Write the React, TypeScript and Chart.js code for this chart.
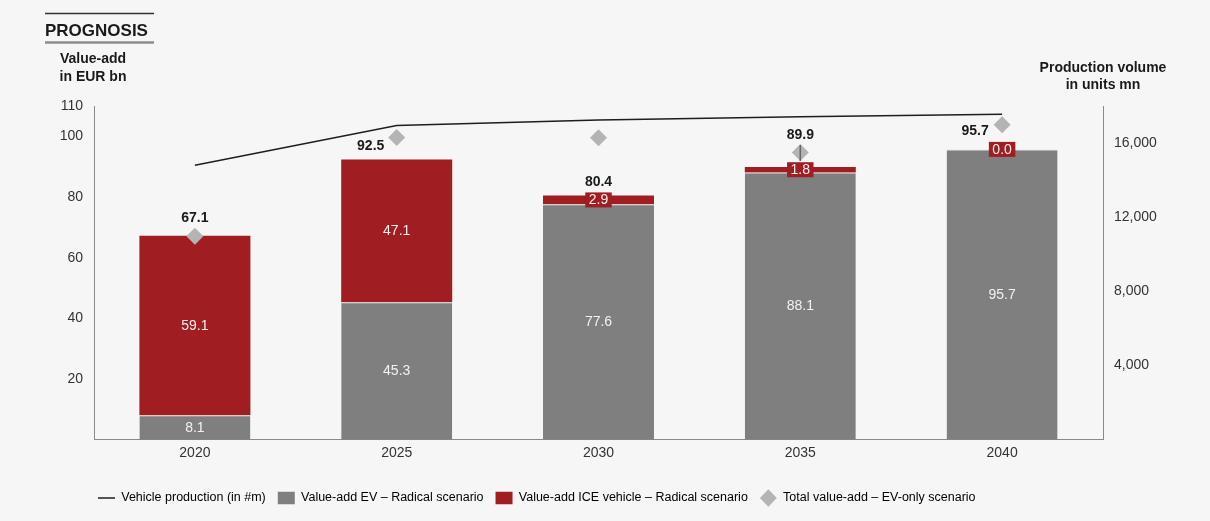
import React, { useEffect, useRef } from "react";
import { Chart, registerables } from "chart.js";

Chart.register(...registerables);

// ---------- data ----------
const years = ["2020", "2025", "2030", "2035", "2040"];
const evValues = [8.1, 45.3, 77.6, 88.1, 95.7];
const iceValues = [59.1, 47.1, 2.9, 1.8, 0.0];
const totalValues = [67.1, 92.5, 80.4, 89.9, 95.7];
const evOnlyTotals = [67.1, 99.6, 99.5, 94.7, 103.8];
const vehicleProduction = [14800, 16950, 17250, 17420, 17560];
const leftTicks = [20, 40, 60, 80, 100, 110];
const rightTicks = [4000, 8000, 12000, 16000];

// ---------- styles ----------
const FONT = '"Liberation Sans", Arial, Helvetica, sans-serif';
const BG = "#f6f6f6";
const EV_GRAY = "#7f7f7f";
const ICE_RED = "#a01d21";
const DIAMOND = "#b4b4b4";
const LINE = "#1e1e1e";
const AXIS = "#8a8a8a";
const TEXT = "#333333";
const totalLabelDx = [0, -26, 0, 0, -27];
const totalLabelDy = [-18, -13, -14, -32, -18];
const LEGEND_LEFT = 86;

const titlePlugin = {
  id: "titles",
  afterLayout(chart: any) {
    if (chart.legend) chart.legend.left = LEGEND_LEFT;
  },
  afterDraw(chart: any) {
    const ctx = chart.ctx;
    ctx.save();
    ctx.strokeStyle = "#333";
    ctx.lineWidth = 1.5;
    ctx.beginPath();
    ctx.moveTo(45, 13.5);
    ctx.lineTo(154, 13.5);
    ctx.stroke();
    ctx.strokeStyle = "#8c8c8c";
    ctx.lineWidth = 2.5;
    ctx.beginPath();
    ctx.moveTo(45, 42.5);
    ctx.lineTo(154, 42.5);
    ctx.stroke();
    ctx.fillStyle = "#1a1a1a";
    ctx.textBaseline = "alphabetic";
    ctx.textAlign = "left";
    ctx.font = `bold 17px ${FONT}`;
    ctx.fillText("PROGNOSIS", 45, 35.5);
    ctx.textAlign = "center";
    ctx.font = `bold 14px ${FONT}`;
    const left = chart.chartArea.left;
    const right = chart.chartArea.right;
    ctx.fillText("Value-add", left - 1, 63);
    ctx.fillText("in EUR bn", left - 1, 80.5);
    ctx.fillText("Production volume", right, 71.5);
    ctx.fillText("in units mn", right, 89);
    ctx.restore();
  },
};

const labelPlugin = {
  id: "valueLabels",
  afterDatasetsDraw(chart: any) {
    const ctx = chart.ctx;
    const evMeta = chart.getDatasetMeta(2);
    const iceMeta = chart.getDatasetMeta(3);
    const yS = chart.scales.y;
    ctx.save();
    ctx.textAlign = "center";
    ctx.textBaseline = "middle";
    ctx.font = `14px ${FONT}`;
    evMeta.data.forEach((bar: any, i: number) => {
      const cy = (bar.y + bar.base) / 2;
      ctx.fillStyle = "#f2f2f2";
      ctx.fillText(evValues[i].toFixed(1), bar.x, cy + 0.5);
    });
    iceMeta.data.forEach((bar: any, i: number) => {
      const h = Math.abs(bar.base - bar.y);
      const cy = (bar.y + bar.base) / 2;
      const txt = iceValues[i].toFixed(1);
      if (h < 20) {
        const w = ctx.measureText(txt).width + 7;
        ctx.fillStyle = ICE_RED;
        ctx.fillRect(bar.x - w / 2, cy - 7.5, w, 15);
      }
      ctx.fillStyle = "#f4f0f0";
      ctx.fillText(txt, bar.x, cy + 0.5);
    });
    ctx.font = `bold 14px ${FONT}`;
    totalValues.forEach((v, i) => {
      const x = evMeta.data[i].x + totalLabelDx[i];
      const yTop = yS.getPixelForValue(v);
      const y = yTop + totalLabelDy[i];
      if (totalLabelDy[i] < -25) {
        ctx.strokeStyle = "#666";
        ctx.lineWidth = 1.5;
        ctx.beginPath();
        ctx.moveTo(x, y + 10);
        ctx.lineTo(x, yTop - 6);
        ctx.stroke();
      }
      ctx.fillStyle = "#1a1a1a";
      ctx.fillText(v.toFixed(1), x, y);
    });
    ctx.restore();
  },
};

export default function App() {
  const ref = useRef<HTMLCanvasElement>(null);
  useEffect(() => {
    document.body.style.margin = "0";
    document.body.style.background = BG;
    Chart.defaults.font.family = FONT;
    const chart = new Chart(ref.current as HTMLCanvasElement, {
      type: "bar",
      data: {
        labels: years,
        datasets: [
          {
            type: "line",
            label: "Vehicle production (in #m)",
            data: vehicleProduction,
            yAxisID: "y1",
            borderColor: LINE,
            backgroundColor: LINE,
            borderWidth: 1.5,
            pointRadius: 0,
            fill: false,
            tension: 0,
            order: 0,
          } as any,
          {
            type: "line",
            label: "Total value-add – EV-only scenario",
            data: evOnlyTotals,
            yAxisID: "y",
            stack: "diamond",
            showLine: false,
            pointStyle: "rectRot",
            pointRadius: 8.5,
            pointBorderWidth: 0,
            pointBackgroundColor: DIAMOND,
            backgroundColor: DIAMOND,
            borderColor: DIAMOND,
            order: 1,
          } as any,
          {
            type: "bar",
            label: "Value-add EV – Radical scenario",
            data: evValues,
            backgroundColor: EV_GRAY,
            borderColor: "#d6d6d6",
            borderWidth: { top: 1, left: 0, right: 0, bottom: 0 },
            borderSkipped: false,
            stack: "s",
            barPercentage: 0.55,
            categoryPercentage: 1,
            order: 2,
          } as any,
          {
            type: "bar",
            label: "Value-add ICE vehicle – Radical scenario",
            data: iceValues,
            backgroundColor: ICE_RED,
            stack: "s",
            barPercentage: 0.55,
            categoryPercentage: 1,
            order: 3,
          } as any,
        ],
      },
      options: {
        responsive: false,
        animation: false,
        devicePixelRatio: 1,
        events: [],
        layout: { padding: { left: 0, right: 0, top: 106, bottom: 6.75 } },
        scales: {
          x: {
            stacked: true,
            grid: { display: false, drawTicks: false },
            border: { display: true, color: AXIS, width: 1 },
            ticks: { color: TEXT, font: { size: 14, family: FONT }, padding: 5 },
            afterFit: (s: any) => {
              s.height = 40;
            },
          },
          y: {
            stacked: true,
            position: "left",
            min: 0,
            max: 110,
            grid: { display: false, drawTicks: false },
            border: { display: true, color: AXIS, width: 1 },
            ticks: { color: TEXT, font: { size: 14, family: FONT }, padding: 11 },
            afterBuildTicks: (s: any) => {
              s.ticks = leftTicks.map((v) => ({ value: v }));
            },
            afterFit: (s: any) => {
              s.width = 94;
            },
          },
          y1: {
            position: "right",
            min: 0,
            max: 18000,
            grid: { display: false, drawTicks: false },
            border: { display: true, color: AXIS, width: 1 },
            ticks: {
              color: TEXT,
              font: { size: 14, family: FONT },
              padding: 11,
              callback: (v: any) => Number(v).toLocaleString("en-US"),
            },
            afterBuildTicks: (s: any) => {
              s.ticks = rightTicks.map((v) => ({ value: v }));
            },
            afterFit: (s: any) => {
              s.width = 107;
            },
          },
        } as any,
        plugins: {
          tooltip: { enabled: false },
          legend: {
            position: "bottom",
            align: "start",
            labels: {
              usePointStyle: true,
              pointStyleWidth: 17,
              boxHeight: 12.5,
              padding: 12,
              color: "#404040",
              font: { size: 12.5, family: FONT },
              generateLabels: () => [
                { text: "Vehicle production (in #m)", pointStyle: "line", fillStyle: LINE, strokeStyle: LINE, lineWidth: 1.5, hidden: false, datasetIndex: 0 },
                { text: "Value-add EV – Radical scenario", pointStyle: "rect", fillStyle: EV_GRAY, strokeStyle: EV_GRAY, lineWidth: 0, hidden: false, datasetIndex: 2 },
                { text: "Value-add ICE vehicle – Radical scenario", pointStyle: "rect", fillStyle: ICE_RED, strokeStyle: ICE_RED, lineWidth: 0, hidden: false, datasetIndex: 3 },
                { text: "Total value-add – EV-only scenario", pointStyle: "rectRot", fillStyle: DIAMOND, strokeStyle: DIAMOND, lineWidth: 0, hidden: false, datasetIndex: 1 },
              ] as any,
            },
          } as any,
        },
      },
      plugins: [titlePlugin, labelPlugin],
    });
    return () => chart.destroy();
  }, []);
  return (
    <div style={{ width: 1210, height: 521, background: BG }}>
      <canvas ref={ref} width={1210} height={521} style={{ display: "block", width: 1210, height: 521 }} />
    </div>
  );
}
